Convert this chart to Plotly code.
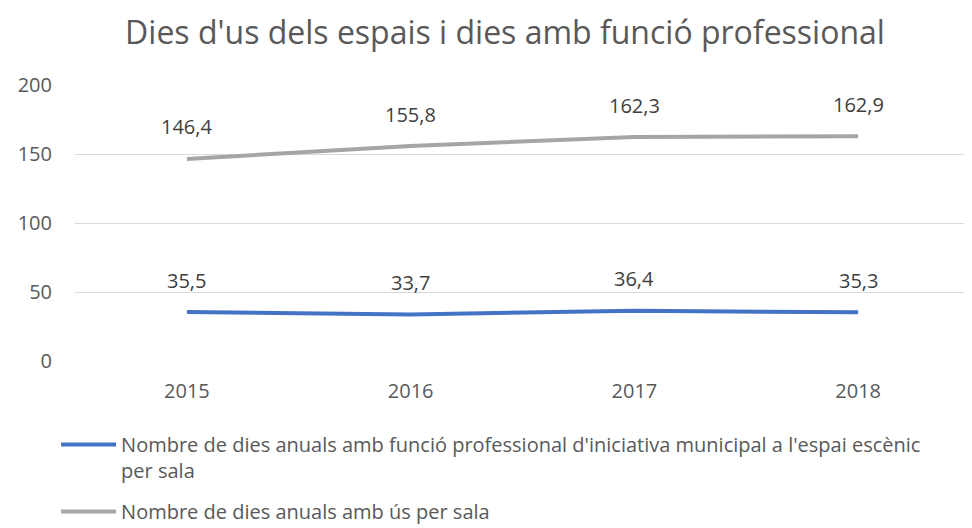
import plotly.graph_objects as go

years = ["2015", "2016", "2017", "2018"]
prof_days = [35.5, 33.7, 36.4, 35.3]
use_days = [146.4, 155.8, 162.3, 162.9]
y_ticks = [0, 50, 100, 150, 200]

name_prof = "Nombre de dies anuals amb funció professional d'iniciativa municipal a l'espai escènic<br>per sala"
name_use = "Nombre de dies anuals amb ús per sala"

FONT = "Open Sans"
GRAY = "#595959"
FS = 20

# page body has an 8px default margin; compensate so the plot lands where the reference does
OFF = 8
W, H = 972, 570          # extra height below the viewport so the legend never forces an automargin
PW, PH = 900, 276
L, T = 70 - OFF, 85 - OFF
R = W - L - PW
B = H - T - PH

fig = go.Figure()
fig.add_trace(go.Scatter(
    x=years, y=prof_days, mode="lines", name=name_prof,
    line=dict(color="#4472C4", width=4), legendgroup="g1",
    hoverinfo="skip",
))
fig.add_trace(go.Scatter(
    x=years, y=use_days, mode="lines", name=name_use,
    line=dict(color="#A5A5A5", width=4), legendgroup="g2",
    hoverinfo="skip",
))

for series in (prof_days, use_days):
    for i, v in enumerate(series):
        fig.add_annotation(
            x=i, y=v, xref="x", yref="y",
            text=f"{v:.1f}".replace(".", ","),
            showarrow=False, yshift=32,
            font=dict(family=FONT, size=FS, color="#404040"),
        )

fig.update_layout(
    width=W, height=H,
    paper_bgcolor="white", plot_bgcolor="white",
    margin=dict(l=L, r=R, t=T, b=B),
    separators=",.",
    title=dict(
        text="Dies d'us dels espais i dies amb funció professional",
        x=(505 - OFF) / W, xanchor="center",
        y=1 - (33 - OFF) / H, yanchor="middle",
        font=dict(family=FONT, size=32, color=GRAY),
    ),
    xaxis=dict(
        type="category", range=[-0.5, 3.5],
        showgrid=False, zeroline=False, showline=False,
        ticks="", tickfont=dict(family=FONT, size=FS, color=GRAY),
        ticklabelstandoff=16,
        fixedrange=True,
    ),
    yaxis=dict(
        range=[0, 200], tickvals=y_ticks,
        showgrid=True, gridcolor="#D9D9D9", gridwidth=1,
        zeroline=False, showline=False, ticks="",
        tickfont=dict(family=FONT, size=FS, color=GRAY),
        ticklabelstandoff=22,
        fixedrange=True,
    ),
    showlegend=True,
    legend=dict(
        orientation="v", x=(51 - OFF - L) / PW, xanchor="left",
        y=-(425 - OFF - (T + PH)) / PH, yanchor="top",
        font=dict(family=FONT, size=FS, color=GRAY),
        itemwidth=55, tracegroupgap=12, valign="top",
        bgcolor="rgba(0,0,0,0)",
    ),
)

fig.write_html("out.html")
